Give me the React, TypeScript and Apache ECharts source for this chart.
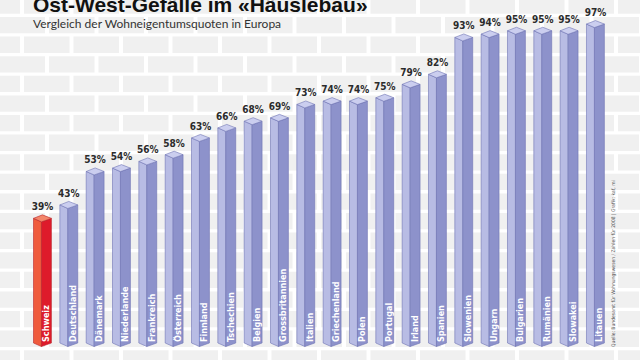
import React, { useEffect, useRef } from "react";
import * as echarts from "echarts";

const categories = [
  "Schweiz", "Deutschland", "Dänemark", "Niederlande", "Frankreich", "Österreich",
  "Finnland", "Tschechien", "Belgien", "Grossbritannien", "Italien", "Griechenland",
  "Polen", "Portugal", "Irland", "Spanien", "Slowenien", "Ungarn", "Bulgarien",
  "Rumänien", "Slowakei", "Litauen",
];
const values = [39, 43, 53, 54, 56, 58, 63, 66, 68, 69, 73, 74, 74, 75, 79, 82, 93, 94, 95, 95, 95, 97];
const highlighted = ["Schweiz"];

const titleText = "Ost-West-Gefälle im «Häuslebau»";
const subtitleText = "Vergleich der Wohneigentumsquoten in Europa";
const sourceText = "Quelle: Bundesamt für Wohnungswesen / Zahlen für 2008 | Grafik: kaf, mi";

const NARROW = '"Liberation Sans Narrow", "DejaVu Sans Condensed", sans-serif';

const BLUE = { front: "#b8bce4", side: "#8d92cb", top: "#cbceef", stroke: "#6e73b4" };
const RED = { front: "#ef5b3d", side: "#de1b2b", top: "#f3866a", stroke: "#b8262b" };

function buildBricks() {
  const out: any[] = [];
  const pitchY = 19.6;
  const pitchX = 49.5;
  for (let r = 0; r < 20; r++) {
    const top = 17 + pitchY * (r - 1);
    const gap0 = r % 2 === 0 ? 20 : 45;
    for (let j = -2; j < 15; j++) {
      const x0 = gap0 + 4 + pitchX * (j - 1);
      out.push({
        type: "rect",
        silent: true,
        shape: { x: x0, y: top, width: 45.5, height: 16.3 },
        style: { fill: "#f0f0f0" },
        z: -10,
      });
    }
  }
  return out;
}

export default function App() {
  const ref = useRef<HTMLDivElement>(null);
  useEffect(() => {
    if (!ref.current) return;
    const chart = echarts.init(ref.current, null, { renderer: "svg" });
    const data = values.map((v, i) => [i, v]);
    chart.setOption({
      animation: false,
      backgroundColor: "#ffffff",
      grid: { left: 29.3, right: 31.4, top: 14, bottom: 11 },
      xAxis: {
        type: "category",
        data: categories,
        show: false,
      },
      yAxis: { type: "value", min: 0, max: 100, show: false },
      graphic: [
        ...buildBricks(),
        {
          type: "text",
          x: 33,
          y: 15,
          z: 5,
          style: {
            text: titleText,
            fill: "#111",
            font: 'bold 21px "Liberation Sans", Arial, sans-serif',
            verticalAlign: "bottom",
          },
        },
        {
          type: "text",
          x: 33,
          y: 23,
          z: 5,
          style: {
            text: subtitleText,
            fill: "#333",
            font: '12px Lato, sans-serif',
            verticalAlign: "middle",
          },
        },
        {
          type: "text",
          x: 613,
          y: 347,
          rotation: Math.PI / 2,
          z: 5,
          style: {
            text: sourceText,
            fill: "#555",
            font: '5px ' + NARROW,
            align: "left",
            verticalAlign: "middle",
          },
        },
      ],
      series: [
        {
          type: "custom",
          data,
          renderItem: (params: any, api: any) => {
            const i = api.value(0);
            const v = api.value(1);
            const name = categories[i];
            const c = highlighted.includes(name) ? RED : BLUE;
            const top = api.coord([i, v]);
            const base = api.coord([i, 0]);
            const bw = api.size([1, 0])[0] * 0.68;
            const hw = bw / 2;
            const cx = top[0];
            const d = 3.5;
            const yt = top[1];
            const yb = base[1] - 6;
            const lw = 0.6;
            return {
              type: "group",
              children: [
                {
                  type: "polygon",
                  shape: { points: [[cx - hw, yt], [cx - 1, yt + d], [cx - 1, yb + d], [cx - hw, yb]] },
                  style: { fill: c.front, stroke: c.stroke, lineWidth: lw },
                },
                {
                  type: "polygon",
                  shape: { points: [[cx - 1, yt + d], [cx + hw, yt], [cx + hw, yb], [cx - 1, yb + d]] },
                  style: { fill: c.side, stroke: c.stroke, lineWidth: lw },
                },
                {
                  type: "polygon",
                  shape: { points: [[cx - hw, yt], [cx, yt - d], [cx + hw, yt], [cx - 1, yt + d]] },
                  style: { fill: c.top, stroke: c.stroke, lineWidth: lw },
                },
                {
                  type: "text",
                  style: {
                    text: v + "%",
                    x: cx,
                    y: yt - d - 3,
                    align: "center",
                    verticalAlign: "bottom",
                    fill: "#2b2b2b",
                    font: "bold 10px " + NARROW,
                  },
                },
                {
                  type: "text",
                  x: cx + 4,
                  y: yb - 1,
                  rotation: Math.PI / 2,
                  style: {
                    text: name,
                    x: 0,
                    y: 0,
                    align: "left",
                    verticalAlign: "middle",
                    fill: "#ffffff",
                    font: "bold 9px " + NARROW,
                  },
                },
              ],
            };
          },
        },
      ],
    });
    return () => chart.dispose();
  }, []);
  return (
    <div
      ref={ref}
      style={{ position: "fixed", left: 0, top: 0, width: 640, height: 360 }}
    />
  );
}
